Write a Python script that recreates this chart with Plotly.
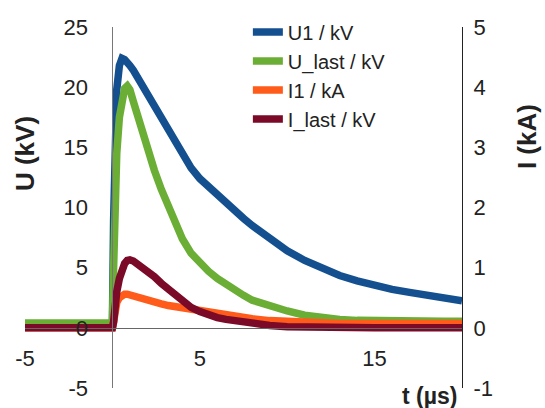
import plotly.graph_objects as go

t_us = [-5, -4, -3, -2, -1, 0.0, 0.07, 0.15, 0.25, 0.4, 0.55, 0.7, 0.85, 1.0, 1.2, 1.4,
        1.7, 2.0, 2.4, 2.8, 3.2, 3.6, 4.0, 4.5, 5.0, 5.5, 6.0, 6.5, 7.0, 7.5, 8.0, 9.0,
        10, 11, 12, 13, 14, 15, 16, 17, 18, 19, 20]

U1_kV = [0.3, 0.3, 0.3, 0.3, 0.3, 0.3, 9.0, 16.0, 19.8, 21.8, 22.4, 22.3, 21.9, 21.8, 21.4, 20.9,
         20.2, 19.4, 18.5, 17.5, 16.4, 15.4, 14.4, 13.3, 12.4, 11.7, 11.0, 10.3, 9.7, 9.1, 8.5, 7.4,
         6.4, 5.6, 4.9, 4.35, 3.9, 3.5, 3.2, 2.95, 2.7, 2.45, 2.25]

U_last_kV = [0.4, 0.4, 0.4, 0.4, 0.4, 0.4, 5.0, 10.5, 14.5, 17.5, 19.2, 19.9, 20.1, 19.8, 18.8, 17.8,
             16.3, 14.8, 13.1, 11.5, 10.0, 8.6, 7.4, 6.2, 5.4, 4.7, 4.1, 3.6, 3.1, 2.7, 2.3, 1.8,
             1.4, 1.05, 0.85, 0.7, 0.62, 0.58, 0.55, 0.55, 0.55, 0.55, 0.55]

I1_kA = [0, 0, 0, 0, 0, 0, 0.1, 0.3, 0.42, 0.5, 0.54, 0.56, 0.56, 0.55, 0.53, 0.51,
         0.48, 0.46, 0.43, 0.40, 0.37, 0.35, 0.33, 0.30, 0.28, 0.26, 0.24, 0.21, 0.19, 0.17, 0.15, 0.12,
         0.10, 0.09, 0.08, 0.07, 0.07, 0.07, 0.07, 0.07, 0.07, 0.07, 0.07]

I_last_kA = [0, 0, 0, 0, 0, 0, 0.1, 0.4, 0.6, 0.82, 0.97, 1.07, 1.12, 1.13, 1.11, 1.07,
             1.01, 0.94, 0.85, 0.74, 0.64, 0.55, 0.44, 0.34, 0.27, 0.21, 0.17, 0.14, 0.115, 0.09, 0.07, 0.04,
             0.02, 0.01, 0.0, 0.0, 0.0, 0.0, 0.0, 0.0, 0.0, 0.0, 0.0]

names = ["U1 / kV", "U_last / kV", "I1 / kA", "I_last / kV"]
colors = ["#14508F", "#6BAE36", "#FF5B1A", "#7B0A28"]

x_ticks = [-5, 5, 15]
x_ticktext = ["-5", "5", "15"]
u_ticks = [-5, 0, 5, 10, 15, 20, 25]
u_ticktext = ["-5", "0", "5", "10", "15", "20", "25"]
i_ticks = [-1, 0, 1, 2, 3, 4, 5]
i_ticktext = ["-1", "0", "1", "2", "3", "4", "5"]

FONT = "Liberation Sans, Arial, sans-serif"
LW = 7.5

fig = go.Figure()
series = [(U1_kV, "y"), (U_last_kV, "y"), (I1_kA, "y2"), (I_last_kA, "y2")]
for i, (vals, ax) in enumerate(series):
    fig.add_trace(go.Scatter(x=t_us, y=vals, mode="lines", name=names[i], yaxis=ax,
                             legendgroup=f"g{i}",
                             line=dict(color=colors[i], width=LW)))

fig.update_layout(
    width=545, height=408,
    margin=dict(l=25, r=83, t=27, b=20, autoexpand=False),
    paper_bgcolor="white", plot_bgcolor="white",
    font=dict(family=FONT, size=22, color="#222"),
    showlegend=True,
    legend=dict(x=0.51, y=1.04, xanchor="left", yanchor="top",
                font=dict(size=20, family=FONT, color="#222"),
                bgcolor="rgba(0,0,0,0)", traceorder="grouped", tracegroupgap=0),
    xaxis=dict(range=[-5, 20], domain=[0, 1], anchor="free", position=1/6,
               showline=True, linecolor="#666", linewidth=1, showgrid=False, zeroline=False,
               tickvals=x_ticks, ticktext=x_ticktext, ticks="", ticklabelstandoff=11,
               automargin=False,
               tickfont=dict(size=22, family=FONT, color="#222")),
    yaxis=dict(range=[-5, 25], anchor="free", position=0.2,
               showline=True, linecolor="#777", linewidth=1, showgrid=False, zeroline=False,
               tickvals=u_ticks, ticktext=u_ticktext, ticks="", ticklabelstandoff=20,
               automargin=False,
               tickfont=dict(size=22, family=FONT, color="#222")),
    yaxis2=dict(range=[-1, 5], overlaying="y", side="right", anchor="x",
                showline=True, linecolor="#222", linewidth=1, showgrid=False, zeroline=False,
                tickvals=i_ticks, ticktext=i_ticktext, ticks="", ticklabelstandoff=6,
                automargin=False,
                tickfont=dict(size=22, family=FONT, color="#222")),
)

fig.add_annotation(text="<b>U (kV)</b>", xref="paper", yref="paper", x=0.0, y=0.648,
                   xanchor="center", yanchor="middle", textangle=-90, showarrow=False,
                   xshift=0, font=dict(size=26, family=FONT, color="#222"))
fig.add_annotation(text="<b>I (kA)</b>", xref="paper", yref="paper", x=1.0, y=0.695,
                   xanchor="center", yanchor="middle", textangle=-90, showarrow=False,
                   xshift=65, font=dict(size=26, family=FONT, color="#222"))
fig.add_annotation(text="<b>t (µs)</b>", xref="paper", yref="paper", x=1.0, y=0.0,
                   xanchor="right", yanchor="middle", showarrow=False,
                   xshift=-3, yshift=-8, font=dict(size=23, family=FONT, color="#222"))

fig.write_html("out.html", config={"displayModeBar": False},
               post_script="document.body.style.margin='0';document.body.style.overflow='hidden';")
